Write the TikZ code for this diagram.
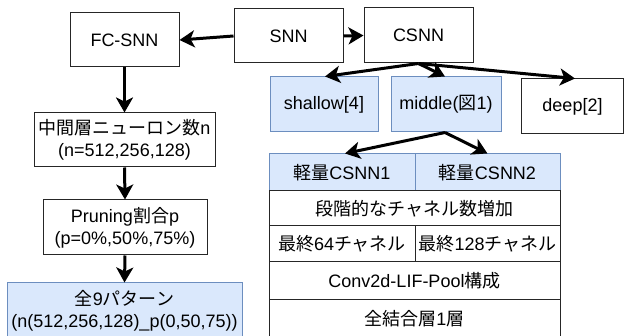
\documentclass[tikz,border=0pt]{standalone}
\usepackage{fontspec}
\setmainfont{Liberation Sans}
\newfontfamily\cjk{Noto Sans CJK JP}
\newcommand\J[1]{{\cjk #1}}
\usetikzlibrary{arrows.meta}
\definecolor{bfill}{HTML}{DAE8FC}
\definecolor{bdraw}{HTML}{6C8EBF}
\begin{document}
\begin{tikzpicture}[x=1pt,y=-1pt,
 box/.style={draw=black!85, line width=1pt, fill=white, inner sep=0pt, align=center, font=\fontsize{18}{22}\selectfont},
 bluebox/.style={box, draw=bdraw, fill=bfill},
 arr/.style={line width=3pt, -{Stealth[length=15pt,width=17pt,inset=4pt]}}
]
\useasboundingbox (0,0) rectangle (624,336);
% left column
\node[box, minimum width=109pt, minimum height=54pt] (fc) at (124.5,40) {FC-SNN};
\node[box, minimum width=181pt, minimum height=54pt] (mid) at (124.5,140) {\J{中間層ニューロン数}n\\(n=512,256,128)};
\node[box, minimum width=164pt, minimum height=55pt] (prun) at (125,227.5) {Pruning\J{割合}p\\(p=0\%,50\%,75\%)};
\node[bluebox, minimum width=235pt, minimum height=55pt] (all) at (124.5,310.5) {\J{全}9\J{パターン}\\(n(512,256,128)\_p(0,50,75))};
% top row
\node[box, minimum width=109pt, minimum height=54pt] (snn) at (288.5,36) {SNN};
\node[box, minimum width=109pt, minimum height=55pt] (csnn) at (418.5,35.5) {CSNN};
% second row
\node[bluebox, minimum width=108pt, minimum height=55pt] (shallow) at (324,104.5) {shallow[4]};
\node[bluebox, minimum width=110pt, minimum height=55pt] (middle) at (446,104.5) {middle(\J{図}1)};
\node[box, minimum width=102pt, minimum height=55pt] (deep) at (572.5,106.5) {deep[2]};
% table
\node[bluebox, minimum width=146pt, minimum height=37pt] (h1) at (342,172.5) {\J{軽量}CSNN1};
\node[bluebox, minimum width=145pt, minimum height=37pt] (h2) at (487.5,172.5) {\J{軽量}CSNN2};
\node[box, minimum width=291pt, minimum height=35pt] (r2) at (414.5,208.5) {\J{段階的なチャネル数増加}};
\node[box, minimum width=146pt, minimum height=36pt] (r3a) at (342,244) {\J{最終}64\J{チャネル}};
\node[box, minimum width=145pt, minimum height=36pt] (r3b) at (487.5,244) {\J{最終}128\J{チャネル}};
\node[box, minimum width=291pt, minimum height=38pt] (r4) at (414.5,281) {Conv2d-LIF-Pool\J{構成}};
\node[box, minimum width=291pt, minimum height=38pt] (r5) at (414.5,319) {\J{全結合層}1\J{層}};
% arrows
\draw[arr] (snn.west) -- (fc.east);
\draw[arr] (snn.east) -- (csnn.west);
\draw[arr] (fc.south) -- (mid.north);
\draw[arr] (mid.south) -- (prun.north);
\draw[arr] (prun.south) -- (all.north);
\draw[arr] (csnn.south) -- ([xshift=1pt]shallow.north);
\draw[arr] (csnn.south) -- ([xshift=-1pt]middle.north);
\draw[arr] (csnn.south) -- ([xshift=2.5pt]deep.north);
\draw[arr] ([xshift=-1pt]middle.south) -- ([xshift=3pt]h1.north);
\draw[arr] ([xshift=-1pt]middle.south) -- (h2.north);
\end{tikzpicture}
\end{document}
